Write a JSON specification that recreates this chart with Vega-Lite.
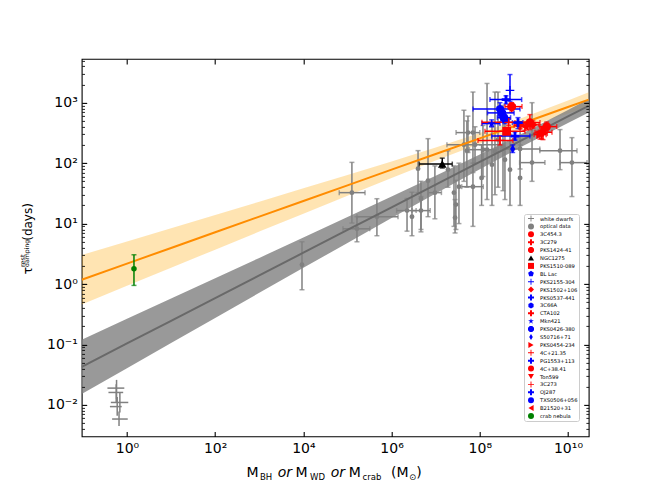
{
"$schema":"https://vega.github.io/schema/vega-lite/v6.json",
"width":507,"height":377.5,
"autosize":{"type":"none"},
"padding":{"left":81.7,"top":58.9,"right":65.3,"bottom":53.6},
"background":"white",
"config":{"font":"DejaVu Sans","view":{"stroke":"#000","strokeWidth":1.1},
 "axis":{"domain":false,"grid":false,"titleFont":"DejaVu Sans","titleFontWeight":"normal","titleColor":"#000","titleBaseline":"alphabetic","titleAlign":"left"}},
"datasets":{
"fit":[
{"x":0.094,"oy":1.178,"olo":0.458,"ohi":3.03,"gy":0.04266,"glo":0.01514,"ghi":0.1202},
{"x":1,"oy":2.178,"olo":0.933,"ohi":5.08,"gy":0.104,"glo":0.04064,"ghi":0.2661},
{"x":10,"oy":3.954,"olo":1.858,"ohi":8.41,"gy":0.2469,"glo":0.1058,"ghi":0.5761},
{"x":100,"oy":7.18,"olo":3.71,"ohi":13.9,"gy":0.5861,"glo":0.2748,"ghi":1.25},
{"x":1000,"oy":13.03,"olo":7.38,"ohi":23.0,"gy":1.391,"glo":0.7151,"ghi":2.707},
{"x":10000,"oy":23.66,"olo":14.62,"ohi":38.3,"gy":3.304,"glo":1.854,"ghi":5.888},
{"x":100000,"oy":42.95,"olo":28.97,"ohi":63.7,"gy":7.843,"glo":4.792,"ghi":12.84},
{"x":1000000,"oy":77.98,"olo":56.9,"ohi":106.9,"gy":18.62,"glo":12.33,"ghi":28.12},
{"x":10000000,"oy":141.6,"olo":110.4,"ohi":181.6,"gy":44.21,"glo":31.51,"ghi":62.03},
{"x":100000000,"oy":257.0,"olo":208.9,"ohi":316.2,"gy":104.9,"glo":79.43,"ghi":138.7},
{"x":1000000000,"oy":466.6,"olo":379.3,"ohi":574.1,"gy":249.2,"glo":195.2,"ghi":318.1},
{"x":10000000000,"oy":847.2,"olo":660.7,"ohi":1086,"gy":591.6,"glo":463.4,"ghi":755.1},
{"x":29500000000,"oy":1122,"olo":849,"ohi":1483,"gy":887,"glo":686.5,"ghi":1147}
],
"pts":[
{"s":"white dwarfs","x":0.58,"y":0.019,"xlo":0.36,"xhi":0.87,"ylo":0.0125,"yhi":0.026},
{"s":"white dwarfs","x":0.57,"y":0.0161,"xlo":0.38,"xhi":0.82,"ylo":0.0108,"yhi":0.022},
{"s":"white dwarfs","x":0.69,"y":0.011,"xlo":0.43,"xhi":1.07,"ylo":0.0075,"yhi":0.016},
{"s":"white dwarfs","x":0.6,"y":0.0094,"xlo":0.41,"xhi":0.76,"ylo":0.0066,"yhi":0.0135},
{"s":"white dwarfs","x":0.66,"y":0.00585,"xlo":0.46,"xhi":1.04,"ylo":0.0045,"yhi":0.0078},
{"s":"optical data","x":126000,"y":32.5,"xlo":65000,"xhi":250000,"ylo":10.2,"yhi":103},
{"s":"optical data","x":164000,"y":8.2,"xlo":79000,"xhi":320000,"ylo":5.0,"yhi":13.0},
{"s":"optical data","x":465000,"y":13.0,"xlo":164000,"xhi":1400000,"ylo":6.3,"yhi":25.8},
{"s":"optical data","x":9300,"y":2.09,"xlo":null,"xhi":null,"ylo":0.805,"yhi":5.01},
{"s":"optical data","x":2240000,"y":16.4,"xlo":1300000,"xhi":3600000,"ylo":7.5,"yhi":26},
{"s":"optical data","x":2900000,"y":13.0,"xlo":null,"xhi":null,"ylo":6.3,"yhi":33},
{"s":"optical data","x":4640000,"y":25.8,"xlo":null,"xhi":null,"ylo":8,"yhi":50},
{"s":"optical data","x":4640000,"y":16.4,"xlo":2900000,"xhi":7500000,"ylo":7.3,"yhi":28},
{"s":"optical data","x":3980000,"y":81,"xlo":null,"xhi":null,"ylo":32.5,"yhi":161},
{"s":"optical data","x":6700000,"y":51,"xlo":null,"xhi":null,"ylo":13,"yhi":254},
{"s":"optical data","x":9600000,"y":32.5,"xlo":6800000,"xhi":13500000,"ylo":12,"yhi":90},
{"s":"optical data","x":19000000,"y":78,"xlo":null,"xhi":null,"ylo":40,"yhi":160},
{"s":"optical data","x":26000000,"y":32.5,"xlo":null,"xhi":null,"ylo":9,"yhi":90},
{"s":"optical data","x":28800000,"y":20.6,"xlo":null,"xhi":null,"ylo":8,"yhi":52},
{"s":"optical data","x":33700000,"y":40.8,"xlo":null,"xhi":null,"ylo":10,"yhi":100},
{"s":"optical data","x":70000000,"y":40.8,"xlo":39000000,"xhi":120000000,"ylo":9,"yhi":100},
{"s":"optical data","x":43700000,"y":202,"xlo":null,"xhi":null,"ylo":50,"yhi":750},
{"s":"optical data","x":70000000,"y":320,"xlo":null,"xhi":null,"ylo":70,"yhi":1500},
{"s":"optical data","x":54000000,"y":320,"xlo":29000000,"xhi":100000000,"ylo":150,"yhi":600},
{"s":"optical data","x":78000000,"y":201,"xlo":18000000,"xhi":290000000,"ylo":100,"yhi":400},
{"s":"optical data","x":51000000,"y":161,"xlo":null,"xhi":null,"ylo":40,"yhi":500},
{"s":"optical data","x":118000000,"y":167,"xlo":58000000,"xhi":240000000,"ylo":60,"yhi":420},
{"s":"optical data","x":6600000000,"y":161,"xlo":2300000000,"xhi":16000000000,"ylo":78,"yhi":359},
{"s":"optical data","x":12300000000,"y":102,"xlo":6600000000,"xhi":27000000000,"ylo":28,"yhi":264},
{"s":"optical data","x":146000000,"y":167,"xlo":null,"xhi":null,"ylo":25,"yhi":2080},
{"s":"optical data","x":221000000,"y":155,"xlo":null,"xhi":null,"ylo":30,"yhi":1500},
{"s":"optical data","x":259000000,"y":245,"xlo":null,"xhi":null,"ylo":40,"yhi":1500},
{"s":"optical data","x":336000000,"y":188,"xlo":null,"xhi":null,"ylo":35,"yhi":900},
{"s":"optical data","x":1530000000,"y":102,"xlo":800000000,"xhi":3000000000,"ylo":50,"yhi":1000},
{"s":"optical data","x":372000000,"y":114,"xlo":null,"xhi":null,"ylo":25,"yhi":600},
{"s":"optical data","x":484000000,"y":78,"xlo":null,"xhi":null,"ylo":20,"yhi":300},
{"s":"optical data","x":189000000,"y":94.5,"xlo":null,"xhi":null,"ylo":20,"yhi":400},
{"s":"optical data","x":27500000,"y":12.5,"xlo":null,"xhi":null,"ylo":7,"yhi":25},
{"s":"optical data","x":820000000,"y":57,"xlo":null,"xhi":null,"ylo":20,"yhi":200},
{"s":"optical data","x":110000000,"y":57,"xlo":null,"xhi":null,"ylo":20,"yhi":200},
{"s":"optical data","x":820000000,"y":172,"xlo":290000000,"xhi":2300000000,"ylo":80,"yhi":400},
{"s":"3C454.3","x":1370000000,"y":469,"xlo":628000000,"xhi":2320000000,"ylo":359,"yhi":635},
{"s":"3C279","x":2540000000,"y":324,"xlo":1790000000,"xhi":4340000000,"ylo":250,"yhi":400},
{"s":"PKS1424-41","x":528000000,"y":861,"xlo":372000000,"xhi":906000000,"ylo":700,"yhi":1000},
{"s":"NGC1275","x":14100000,"y":96.6,"xlo":4250000,"xhi":23800000,"ylo":83,"yhi":121},
{"s":"PKS1510-089","x":407000000,"y":336,"xlo":131000000,"xhi":1060000000,"ylo":290,"yhi":390},
{"s":"BL Lac","x":372000000,"y":525,"xlo":300000000,"xhi":460000000,"ylo":450,"yhi":600},
{"s":"PKS2155-304","x":484000000,"y":1603,"xlo":null,"xhi":null,"ylo":1050,"yhi":2920},
{"s":"PKS1502+106","x":1600000000,"y":430,"xlo":1200000000,"xhi":2200000000,"ylo":380,"yhi":500},
{"s":"PKS0537-441","x":628000000,"y":280,"xlo":186000000,"xhi":1370000000,"ylo":240,"yhi":330},
{"s":"3C66A","x":287000000,"y":789,"xlo":70200000,"xhi":817000000,"ylo":600,"yhi":1000},
{"s":"CTA102","x":820000000,"y":420,"xlo":600000000,"xhi":1100000000,"ylo":370,"yhi":480},
{"s":"Mkn421","x":186000000,"y":451,"xlo":112000000,"xhi":287000000,"ylo":400,"yhi":520},
{"s":"PKS0426-380","x":314000000,"y":678,"xlo":150000000,"xhi":600000000,"ylo":560,"yhi":820},
{"s":"S50716+71","x":557000000,"y":172,"xlo":null,"xhi":null,"ylo":150,"yhi":200},
{"s":"PKS0454-234","x":2320000000,"y":296,"xlo":1700000000,"xhi":3200000000,"ylo":250,"yhi":350},
{"s":"4C+21.35","x":287000000,"y":238,"xlo":91000000,"xhi":566000000,"ylo":200,"yhi":280},
{"s":"PG1553+113","x":393000000,"y":1125,"xlo":170000000,"xhi":891000000,"ylo":950,"yhi":1300},
{"s":"4C+38.41","x":3290000000,"y":402,"xlo":2300000000,"xhi":5550000000,"ylo":340,"yhi":480},
{"s":"Ton599","x":2710000000,"y":308,"xlo":2200000000,"xhi":3400000000,"ylo":245,"yhi":386},
{"s":"3C273","x":450000000,"y":473,"xlo":112000000,"xhi":1370000000,"ylo":420,"yhi":540},
{"s":"OJ287","x":735000000,"y":469,"xlo":550000000,"xhi":950000000,"ylo":373,"yhi":566},
{"s":"TXS0506+056","x":354000000,"y":566,"xlo":250000000,"xhi":500000000,"ylo":480,"yhi":650},
{"s":"B21520+31","x":1060000000,"y":402,"xlo":800000000,"xhi":1400000000,"ylo":350,"yhi":460},
{"s":"crab nebula","x":1.44,"y":1.79,"xlo":null,"xhi":null,"ylo":0.95,"yhi":3.05}
]
},
"resolve":{"axis":{"x":"independent","y":"independent"},"legend":{"color":"independent","shape":"independent"}},
"layer":[
{"data":{"name":"fit"},
 "mark":{"type":"area","color":"#ffa500","opacity":0.3,"clip":true},
 "encoding":{
  "x":{"field":"x","type":"quantitative","scale":{"type":"log","domain":[0.094,29500000000],"nice":false},
   "axis":{"orient":"bottom","values":[1,100,10000,1000000,100000000,10000000000],
    "labelExpr":"'10' + replace(replace(replace(replace(replace(replace(replace(replace(replace(replace(replace(toString(round(log(datum.value)/LN10)),'-','⁻'),'0','⁰'),'1','¹'),'2','²'),'3','³'),'4','⁴'),'5','⁵'),'6','⁶'),'7','⁷'),'8','⁸'),'9','⁹')",
    "ticks":true,"tickSize":-5,"tickWidth":1.1,"tickColor":"#000",
    "labelFont":"DejaVu Sans","labelFontSize":14,"labelColor":"#000","labelPadding":10,"labelOverlap":false,"labelFlush":false,
    "title":"M","titleX":164.3,"titleY":40.3,"titleAngle":0,"titleFontSize":14,"zindex":1}},
  "y":{"field":"olo","type":"quantitative","scale":{"type":"log","domain":[0.00302,5300],"nice":false},
   "axis":{"orient":"left","values":[0.004,0.005,0.006,0.007,0.008,0.009,0.01,0.02,0.03,0.04,0.05,0.06,0.07,0.08,0.09,0.1,0.2,0.3,0.4,0.5,0.6,0.7,0.8,0.9,1,2,3,4,5,6,7,8,9,10,20,30,40,50,60,70,80,90,100,200,300,400,500,600,700,800,900,1000,2000,3000,4000,5000],
    "labelExpr":"abs(log(datum.value)/LN10 - round(log(datum.value)/LN10)) < 0.001 ? '10' + replace(replace(replace(replace(replace(replace(replace(replace(replace(replace(replace(toString(round(log(datum.value)/LN10)),'-','⁻'),'0','⁰'),'1','¹'),'2','²'),'3','³'),'4','⁴'),'5','⁵'),'6','⁶'),'7','⁷'),'8','⁸'),'9','⁹') : ''",
    "ticks":true,
    "tickSize":{"condition":{"test":"abs(log(datum.value)/LN10 - round(log(datum.value)/LN10)) < 0.001","value":-5},"value":-2.8},
    "tickWidth":{"condition":{"test":"abs(log(datum.value)/LN10 - round(log(datum.value)/LN10)) < 0.001","value":1.1},"value":0.85},
    "tickColor":"#000",
    "labelFont":"DejaVu Sans","labelFontSize":14,"labelColor":"#000","labelPadding":9.4,"labelOverlap":false,"labelFlush":false,
    "title":"τ","titleX":-50,"titleY":214.9,"titleAngle":270,"titleFontSize":12,"zindex":1}},
  "y2":{"field":"ohi"}
 }},
{"data":{"name":"fit"},
 "mark":{"type":"area","color":"#808080","opacity":0.8,"clip":true},
 "encoding":{
  "x":{"field":"x","type":"quantitative","scale":{"type":"log","domain":[0.094,29500000000],"nice":false},
   "axis":{"orient":"top","values":[1,100,10000,1000000,100000000,10000000000],"labels":false,"ticks":true,"tickSize":-5,"tickWidth":1.1,"tickColor":"#000","title":null,"zindex":1}},
  "y":{"field":"glo","type":"quantitative","scale":{"type":"log","domain":[0.00302,5300],"nice":false},
   "axis":{"orient":"right","values":[0.004,0.005,0.006,0.007,0.008,0.009,0.01,0.02,0.03,0.04,0.05,0.06,0.07,0.08,0.09,0.1,0.2,0.3,0.4,0.5,0.6,0.7,0.8,0.9,1,2,3,4,5,6,7,8,9,10,20,30,40,50,60,70,80,90,100,200,300,400,500,600,700,800,900,1000,2000,3000,4000,5000],
    "labels":false,"ticks":true,
    "tickSize":{"condition":{"test":"abs(log(datum.value)/LN10 - round(log(datum.value)/LN10)) < 0.001","value":-5},"value":-2.8},
    "tickWidth":{"condition":{"test":"abs(log(datum.value)/LN10 - round(log(datum.value)/LN10)) < 0.001","value":1.1},"value":0.85},
    "tickColor":"#000","title":null,"zindex":1}},
  "y2":{"field":"ghi"}
 }},
{"data":{"name":"pts"},
 "transform":[{"filter":"datum.s === 'white dwarfs'"}],
 "mark":{"type":"rule","color":"#808080","strokeWidth":1.5},
 "encoding":{
  "x":{"field":"xlo","type":"quantitative","scale":{"type":"log","domain":[0.094,29500000000],"nice":false},
   "axis":{"orient":"bottom","labels":false,"ticks":false,"title":"BH","titleX":177.8,"titleY":43.3,"titleAngle":0,"titleFontSize":8.5}},
  "x2":{"field":"xhi"},
  "y":{"field":"y","type":"quantitative","scale":{"type":"log","domain":[0.00302,5300],"nice":false},
   "axis":{"orient":"left","labels":false,"ticks":false,"title":"rest","titleX":-57.5,"titleY":207.6,"titleAngle":270,"titleFontSize":6.5}}
 }},
{"data":{"name":"pts"},
 "transform":[{"filter":"datum.s === 'white dwarfs'"}],
 "mark":{"type":"rule","color":"#808080","strokeWidth":1.5},
 "encoding":{
  "x":{"field":"x","type":"quantitative","scale":{"type":"log","domain":[0.094,29500000000],"nice":false},
   "axis":{"orient":"bottom","labels":false,"ticks":false,"title":"or","titleX":195.5,"titleY":40.3,"titleAngle":0,"titleFontSize":14,"titleFontStyle":"italic"}},
  "y":{"field":"ylo","type":"quantitative","scale":{"type":"log","domain":[0.00302,5300],"nice":false},
   "axis":{"orient":"left","labels":false,"ticks":false,"title":"damping","titleX":-53.1,"titleY":207.6,"titleAngle":270,"titleFontSize":6.2}},
  "y2":{"field":"yhi"}
 }},
{"data":{"name":"pts"},
 "transform":[{"filter":"datum.s === 'optical data'"}],
 "mark":{"type":"errorbar","color":"#808080","ticks":true,"size":5,"thickness":1.5},
 "encoding":{
  "x":{"field":"x","type":"quantitative","scale":{"type":"log","domain":[0.094,29500000000],"nice":false},
   "axis":{"orient":"bottom","labels":false,"ticks":false,"title":"M","titleX":213.3,"titleY":40.3,"titleAngle":0,"titleFontSize":14}},
  "y":{"field":"ylo","type":"quantitative","scale":{"type":"log","domain":[0.00302,5300],"nice":false},
   "axis":{"orient":"left","labels":false,"ticks":false,"title":"(days)","titleX":-50,"titleY":181.4,"titleAngle":270,"titleFontSize":12}},
  "y2":{"field":"yhi"}
 }},
{"data":{"name":"pts"},
 "transform":[{"filter":"datum.s === 'optical data' && isValid(datum.xlo)"}],
 "mark":{"type":"errorbar","color":"#808080","ticks":true,"size":5,"thickness":1.5},
 "encoding":{
  "x":{"field":"xlo","type":"quantitative","scale":{"type":"log","domain":[0.094,29500000000],"nice":false},
   "axis":{"orient":"bottom","labels":false,"ticks":false,"title":"WD","titleX":227.8,"titleY":43.3,"titleAngle":0,"titleFontSize":8.5}},
  "x2":{"field":"xhi"},
  "y":{"field":"y","type":"quantitative","scale":{"type":"log","domain":[0.00302,5300],"nice":false},"axis":null}
 }},
{"data":{"name":"pts"},
 "transform":[{"filter":"datum.s === 'optical data'"}],
 "mark":{"type":"point","filled":true,"color":"#808080","size":24,"opacity":1},
 "encoding":{
  "x":{"field":"x","type":"quantitative","scale":{"type":"log","domain":[0.094,29500000000],"nice":false},
   "axis":{"orient":"bottom","labels":false,"ticks":false,"title":"or","titleX":248.5,"titleY":40.3,"titleAngle":0,"titleFontSize":14,"titleFontStyle":"italic"}},
  "y":{"field":"y","type":"quantitative","scale":{"type":"log","domain":[0.00302,5300],"nice":false},"axis":null}
 }},
{"data":{"name":"fit"},
 "mark":{"type":"line","color":"#ff8c00","strokeWidth":2,"clip":true},
 "encoding":{
  "x":{"field":"x","type":"quantitative","scale":{"type":"log","domain":[0.094,29500000000],"nice":false},
   "axis":{"orient":"bottom","labels":false,"ticks":false,"title":"M","titleX":266.6,"titleY":40.3,"titleAngle":0,"titleFontSize":14}},
  "y":{"field":"oy","type":"quantitative","scale":{"type":"log","domain":[0.00302,5300],"nice":false},"axis":null}
 }},
{"data":{"name":"fit"},
 "mark":{"type":"line","color":"#696969","strokeWidth":2,"clip":true},
 "encoding":{
  "x":{"field":"x","type":"quantitative","scale":{"type":"log","domain":[0.094,29500000000],"nice":false},
   "axis":{"orient":"bottom","labels":false,"ticks":false,"title":"crab","titleX":280.3,"titleY":43.3,"titleAngle":0,"titleFontSize":8.5}},
  "y":{"field":"gy","type":"quantitative","scale":{"type":"log","domain":[0.00302,5300],"nice":false},"axis":null}
 }},
{"data":{"name":"pts"},
 "transform":[{"filter":"datum.s !== 'optical data' && datum.s !== 'white dwarfs'"}],
 "mark":{"type":"errorbar","ticks":true,"size":5,"thickness":1.5},
 "encoding":{
  "x":{"field":"x","type":"quantitative","scale":{"type":"log","domain":[0.094,29500000000],"nice":false},
   "axis":{"orient":"bottom","labels":false,"ticks":false,"title":"(M","titleX":308.8,"titleY":40.3,"titleAngle":0,"titleFontSize":14}},
  "y":{"field":"ylo","type":"quantitative","scale":{"type":"log","domain":[0.00302,5300],"nice":false},"axis":null},
  "y2":{"field":"yhi"},
  "color":{"field":"s","type":"nominal","legend":null,
   "scale":{"domain":["white dwarfs","optical data","3C454.3","3C279","PKS1424-41","NGC1275","PKS1510-089","BL Lac","PKS2155-304","PKS1502+106","PKS0537-441","3C66A","CTA102","Mkn421","PKS0426-380","S50716+71","PKS0454-234","4C+21.35","PG1553+113","4C+38.41","Ton599","3C273","OJ287","TXS0506+056","B21520+31","crab nebula"],
    "range":["#808080","#808080","#ff0000","#ff0000","#ff0000","#000000","#ff0000","#0000ff","#0000ff","#ff0000","#0000ff","#0000ff","#ff0000","#0000ff","#0000ff","#0000ff","#ff0000","#ff0000","#0000ff","#ff0000","#ff0000","#ff0000","#0000ff","#0000ff","#ff0000","#008000"]}}
 }},
{"data":{"name":"pts"},
 "transform":[{"filter":"datum.s !== 'optical data' && datum.s !== 'white dwarfs' && isValid(datum.xlo)"}],
 "mark":{"type":"errorbar","ticks":true,"size":5,"thickness":1.5},
 "encoding":{
  "x":{"field":"xlo","type":"quantitative","scale":{"type":"log","domain":[0.094,29500000000],"nice":false},
   "axis":{"orient":"bottom","labels":false,"ticks":false,"title":"⊙","titleX":326.8,"titleY":43.3,"titleAngle":0,"titleFontSize":8.5}},
  "x2":{"field":"xhi"},
  "y":{"field":"y","type":"quantitative","scale":{"type":"log","domain":[0.00302,5300],"nice":false},"axis":null},
  "color":{"field":"s","type":"nominal","legend":null,
   "scale":{"domain":["white dwarfs","optical data","3C454.3","3C279","PKS1424-41","NGC1275","PKS1510-089","BL Lac","PKS2155-304","PKS1502+106","PKS0537-441","3C66A","CTA102","Mkn421","PKS0426-380","S50716+71","PKS0454-234","4C+21.35","PG1553+113","4C+38.41","Ton599","3C273","OJ287","TXS0506+056","B21520+31","crab nebula"],
    "range":["#808080","#808080","#ff0000","#ff0000","#ff0000","#000000","#ff0000","#0000ff","#0000ff","#ff0000","#0000ff","#0000ff","#ff0000","#0000ff","#0000ff","#0000ff","#ff0000","#ff0000","#0000ff","#ff0000","#ff0000","#ff0000","#0000ff","#0000ff","#ff0000","#008000"]}}
 }},
{"data":{"name":"pts"},
 "transform":[{"filter":"datum.s !== 'optical data' && datum.s !== 'white dwarfs'"}],
 "mark":{"type":"point","filled":true,"opacity":1},
 "encoding":{
  "x":{"field":"x","type":"quantitative","scale":{"type":"log","domain":[0.094,29500000000],"nice":false},
   "axis":{"orient":"bottom","labels":false,"ticks":false,"title":")","titleX":334.1,"titleY":40.3,"titleAngle":0,"titleFontSize":14}},
  "y":{"field":"y","type":"quantitative","scale":{"type":"log","domain":[0.00302,5300],"nice":false},"axis":null},
  "size":{"condition":{"test":"datum.s === 'crab nebula'","value":30},"value":75},
  "color":{"field":"s","type":"nominal",
   "scale":{"domain":["white dwarfs","optical data","3C454.3","3C279","PKS1424-41","NGC1275","PKS1510-089","BL Lac","PKS2155-304","PKS1502+106","PKS0537-441","3C66A","CTA102","Mkn421","PKS0426-380","S50716+71","PKS0454-234","4C+21.35","PG1553+113","4C+38.41","Ton599","3C273","OJ287","TXS0506+056","B21520+31","crab nebula"],
    "range":["#808080","#808080","#ff0000","#ff0000","#ff0000","#000000","#ff0000","#0000ff","#0000ff","#ff0000","#0000ff","#0000ff","#ff0000","#0000ff","#0000ff","#0000ff","#ff0000","#ff0000","#0000ff","#ff0000","#ff0000","#ff0000","#0000ff","#0000ff","#ff0000","#008000"]},
   "legend":{"title":null,"orient":"none","legendX":442.3,"legendY":155.1,"padding":1.5,"rowPadding":0.9,"symbolSize":36,"symbolOffset":2.5,"symbolStrokeWidth":0,
    "labelFont":"DejaVu Sans","labelFontSize":5.2,"labelColor":"#000","labelOffset":6,"labelLimit":200,
    "fillColor":"rgba(255,255,255,0.8)","strokeColor":"#cccccc","cornerRadius":2}},
  "shape":{"field":"s","type":"nominal",
   "scale":{"domain":["white dwarfs","optical data","3C454.3","3C279","PKS1424-41","NGC1275","PKS1510-089","BL Lac","PKS2155-304","PKS1502+106","PKS0537-441","3C66A","CTA102","Mkn421","PKS0426-380","S50716+71","PKS0454-234","4C+21.35","PG1553+113","4C+38.41","Ton599","3C273","OJ287","TXS0506+056","B21520+31","crab nebula"],
    "range":["M-1,-0.15H-0.15V-1H0.15V-0.15H1V0.15H0.15V1H-0.15V0.15H-1Z","circle","circle","M-1,-0.33H-0.33V-1H0.33V-0.33H1V0.33H0.33V1H-0.33V0.33H-1Z","M-0.414,-1L0.414,-1L1,-0.414L1,0.414L0.414,1L-0.414,1L-1,0.414L-1,-0.414Z","triangle-up","square","M0,-1L0.951,-0.309L0.588,0.809L-0.588,0.809L-0.951,-0.309Z","M-1,-0.15H-0.15V-1H0.15V-0.15H1V0.15H0.15V1H-0.15V0.15H-1Z","diamond","M-1,-0.33H-0.33V-1H0.33V-0.33H1V0.33H0.33V1H-0.33V0.33H-1Z","M0,-1L0.866,-0.5L0.866,0.5L0,1L-0.866,0.5L-0.866,-0.5Z","M-1,-0.33H-0.33V-1H0.33V-0.33H1V0.33H0.33V1H-0.33V0.33H-1Z","M0,-1L0.223,-0.307L0.951,-0.309L0.361,0.117L0.588,0.809L0,0.38L-0.588,0.809L-0.361,0.117L-0.951,-0.309L-0.223,-0.307Z","M-0.414,-1L0.414,-1L1,-0.414L1,0.414L0.414,1L-0.414,1L-1,0.414L-1,-0.414Z","M0,-1L0.6,0L0,1L-0.6,0Z","triangle-right","M-1,-0.15H-0.15V-1H0.15V-0.15H1V0.15H0.15V1H-0.15V0.15H-1Z","M-1,-0.33H-0.33V-1H0.33V-0.33H1V0.33H0.33V1H-0.33V0.33H-1Z","circle","triangle-down","M-1,-0.15H-0.15V-1H0.15V-0.15H1V0.15H0.15V1H-0.15V0.15H-1Z","M-1,-0.33H-0.33V-1H0.33V-0.33H1V0.33H0.33V1H-0.33V0.33H-1Z","circle","triangle-left","circle"]},
   "legend":{"title":null,"orient":"none","legendX":442.3,"legendY":155.1,"padding":1.5,"rowPadding":0.9,"symbolSize":36,"symbolOffset":2.5,"symbolStrokeWidth":0,
    "labelFont":"DejaVu Sans","labelFontSize":5.2,"labelColor":"#000","labelOffset":6,"labelLimit":200,
    "fillColor":"rgba(255,255,255,0.8)","strokeColor":"#cccccc","cornerRadius":2}}
 }}
]
}
